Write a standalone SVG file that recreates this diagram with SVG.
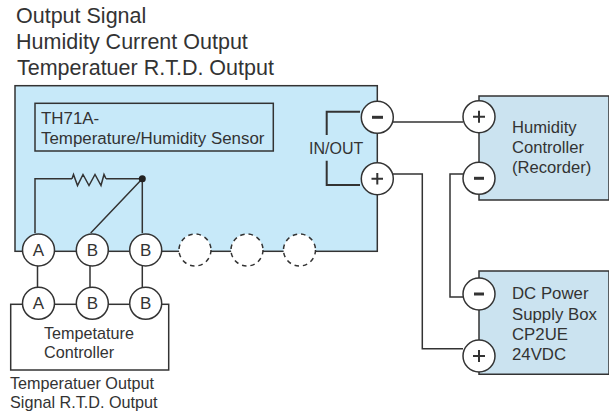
<svg xmlns="http://www.w3.org/2000/svg" width="609" height="412" viewBox="0 0 609 412">
<style>
text{font-family:"Liberation Sans",Arial,sans-serif;fill:#333}
.w{fill:none;stroke:#333;stroke-width:1.5}
.c{fill:#fff;stroke:#333;stroke-width:1.5}
.d{fill:#fff;stroke:#333;stroke-width:1.5;stroke-dasharray:4.500 4}
.t{font-size:21.500px}
.s{font-size:16.900px}
.h{font-size:16.600px}
.io{font-size:16px}
.p{font-size:16.800px}
.x{font-size:16.200px}
.l{font-size:17px;text-anchor:middle}
.sym{stroke:#333;stroke-width:2;fill:none}
.min{stroke:#333;stroke-width:3;fill:none}
</style>
<rect width="609" height="412" fill="#fff"/>
<g id="title"><text class="t" x="16" y="23">Output Signal</text>
<text class="t" x="16" y="49">Humidity Current Output</text>
<text class="t" x="17" y="75">Temperatuer R.T.D. Output</text></g>
<g id="sensor"><rect x="15" y="85.700" width="362.300" height="165.600" fill="#c7e9f9" stroke="#333" stroke-width="1.500"/>
<rect x="35" y="103.300" width="238.300" height="47.700" fill="none" stroke="#333" stroke-width="1.500"/>
<text class="s" x="41" y="124">TH71A-</text><text class="s" x="41" y="144">Temperature/Humidity Sensor</text>
<text class="io" x="309" y="154">IN/OUT</text></g>
<g id="humidity-controller"><path d="M479 96H609V200H479Z" fill="#cbe3f0" stroke="#333" stroke-width="1.500"/>
<text class="h" x="512" y="133">Humidity</text><text class="h" x="512" y="153">Controller</text><text class="h" x="512" y="173">(Recorder)</text></g>
<g id="power-supply"><path d="M479 271H609V374.300H479Z" fill="#cbe3f0" stroke="#333" stroke-width="1.500"/>
<text class="p" x="512" y="299">DC Power</text><text class="p" x="512" y="320">Supply Box</text><text class="p" x="512" y="340">CP2UE</text><text class="p" x="512" y="360">24VDC</text></g>
<g id="temperature-controller"><rect x="10.700" y="304.300" width="158" height="65.700" fill="#fff" stroke="#333" stroke-width="1.500"/>
<text class="x" x="44" y="339">Tempetature</text><text class="x" x="44" y="358">Controller</text></g>
<g id="connectors">
<path class="w" d="M35 233V178.700H72M106 178.700H142.300V233M142.300 178.700L90.700 233"/>
<path class="w" d="M72 178.700L73.500 174.500L77.500 185.500L83 174.500L89 185.500L95 174.500L101 185.500L104 174.500L106 178.700"/>
<circle cx="142.300" cy="178.700" r="3.500" fill="#222"/>
<path class="w" d="M37.500 265V288M90 265V288M142.300 265V288"/>
<path class="w" d="M393 122H463M393 174H422.300V348.700H463M495 174H450V297H463"/>
<path class="w" style="stroke-width:2" d="M360 111.700H326.700V135M326.700 160.700V185H360"/>
</g>
<g id="term-a1"><circle class="c" cx="38.500" cy="250" r="16"/><text class="l" x="38.500" y="255.500">A</text></g>
<g id="term-b1"><circle class="c" cx="92.300" cy="250" r="16"/><text class="l" x="92.300" y="255.500">B</text></g>
<g id="term-b2"><circle class="c" cx="145.700" cy="250" r="16"/><text class="l" x="145.700" y="255.500">B</text></g>
<g id="term-d1"><circle class="d" cx="195" cy="250" r="16"/></g>
<g id="term-d2"><circle class="d" cx="247" cy="250" r="16"/></g>
<g id="term-d3"><circle class="d" cx="299.500" cy="250" r="16"/></g>
<g id="term-a2"><circle class="c" cx="38.500" cy="303.300" r="16"/><text class="l" x="38.500" y="308.500">A</text></g>
<g id="term-b3"><circle class="c" cx="92.300" cy="303.300" r="16"/><text class="l" x="92.300" y="308.500">B</text></g>
<g id="term-b4"><circle class="c" cx="145.700" cy="303.300" r="16"/><text class="l" x="145.700" y="308.500">B</text></g>
<g id="term-in-minus"><circle class="c" cx="377.300" cy="117.300" r="16"/><path class="min" d="M372 117.300H383"/></g>
<g id="term-in-plus"><circle class="c" cx="377.300" cy="178.700" r="16"/><path class="sym" d="M371.500 178.700H383M377.300 173V184.500"/></g>
<g id="term-hc-plus"><circle class="c" cx="479" cy="116.700" r="16"/><path class="sym" d="M473 116.700H485M479 110.700V122.700"/></g>
<g id="term-hc-minus"><circle class="c" cx="479" cy="178.300" r="16"/><path class="min" d="M474 178.300H484"/></g>
<g id="term-ps-minus"><circle class="c" cx="479" cy="294" r="16"/><path class="min" d="M474 294H484"/></g>
<g id="term-ps-plus"><circle class="c" cx="479" cy="356" r="16"/><path class="sym" d="M473 356H485M479 350V362"/></g>
<g id="caption"><text class="x" x="10" y="389">Temperatuer Output</text><text class="x" x="10" y="408">Signal R.T.D. Output</text></g>
</svg>
